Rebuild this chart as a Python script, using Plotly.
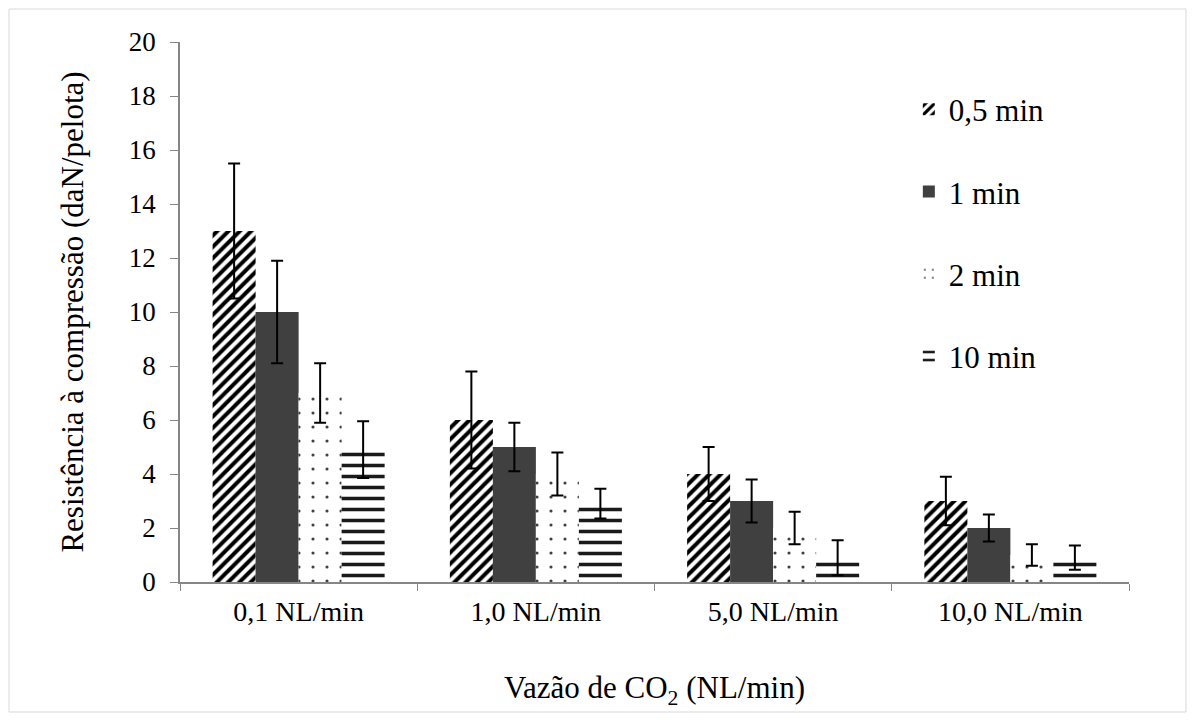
import plotly.graph_objects as go

categories = ["0,1 NL/min", "1,0 NL/min", "5,0 NL/min", "10,0 NL/min"]
series_names = ["0,5 min", "1 min", "2 min", "10 min"]
values = {
    "0,5 min": [13, 6, 4, 3],
    "1 min": [10, 5, 3, 2],
    "2 min": [7, 4, 2, 1],
    "10 min": [4.9, 2.9, 0.9, 0.9],
}
errors = {
    "0,5 min": [2.5, 1.8, 1.0, 0.9],
    "1 min": [1.9, 0.9, 0.8, 0.5],
    "2 min": [1.1, 0.8, 0.6, 0.4],
    "10 min": [1.05, 0.55, 0.65, 0.45],
}

styles = {
    "0,5 min": dict(color="white", marker_pattern=dict(shape="/", fgcolor="black", bgcolor="white", size=8, solidity=0.5, fgopacity=1, fillmode="replace")),
    "1 min": dict(color="#404040", marker_pattern=None),
    "2 min": dict(color="white", marker_pattern=dict(shape=".", fgcolor="#404040", bgcolor="white", size=14, solidity=0.04, fgopacity=1, fillmode="replace")),
    "10 min": dict(color="white", marker_pattern=dict(shape="-", fgcolor="#1a1a1a", bgcolor="white", size=11, solidity=0.32, fgopacity=1, fillmode="replace")),
}

font_family = "'Liberation Serif', 'Times New Roman', Times, serif"

fig = go.Figure()
for i, name in enumerate(series_names):
    st = styles[name]
    marker = dict(color=st["color"], line=dict(width=0))
    if st["marker_pattern"] is not None:
        marker["pattern"] = st["marker_pattern"]
    fig.add_trace(go.Bar(
        x=categories, y=values[name], name=name,
        marker=marker,
        legendgroup=name,
        error_y=dict(type="data", array=errors[name], visible=True,
                     color="black", thickness=2, width=6),
    ))

fig.update_layout(
    width=1195, height=722,
    paper_bgcolor="white", plot_bgcolor="white",
    margin=dict(l=180, r=66, t=42, b=140),
    barmode="group", bargap=0.275, bargroupgap=0,
    font=dict(family=font_family, color="black", size=27),
    showlegend=True,
    legend=dict(x=0.768, y=0.925, xanchor="left", yanchor="top",
                font=dict(size=31, family=font_family),
                tracegroupgap=39, bgcolor="rgba(0,0,0,0)",
                itemwidth=30),
    xaxis=dict(
        showline=True, linecolor="#868686", linewidth=1.5,
        ticks="outside", tickson="boundaries", ticklen=7, tickcolor="#868686",
        ticklabelstandoff=4,
        tickfont=dict(size=28, family=font_family),
        title=dict(text="Vazão de CO<sub>2</sub> (NL/min)", font=dict(size=31, family=font_family), standoff=50),
    ),
    yaxis=dict(
        range=[0, 20], dtick=2, showgrid=False, zeroline=False,
        showline=True, linecolor="#868686", linewidth=1.5,
        ticks="outside", ticklen=8, tickcolor="#868686",
        ticklabelstandoff=9,
        tickfont=dict(size=27, family=font_family),
        title=dict(text="Resistência à compressão (daN/pelota)", font=dict(size=31, family=font_family), standoff=36),
    ),
    shapes=[dict(type="rect", xref="paper", yref="paper",
                 x0=(9 - 180) / 949, x1=(1186 - 180) / 949,
                 y0=(582 - 712) / 540, y1=(582 - 9) / 540,
                 line=dict(color="#d9d9d9", width=1), fillcolor="rgba(0,0,0,0)",
                 layer="below")],
)

fig.write_html("out.html")
